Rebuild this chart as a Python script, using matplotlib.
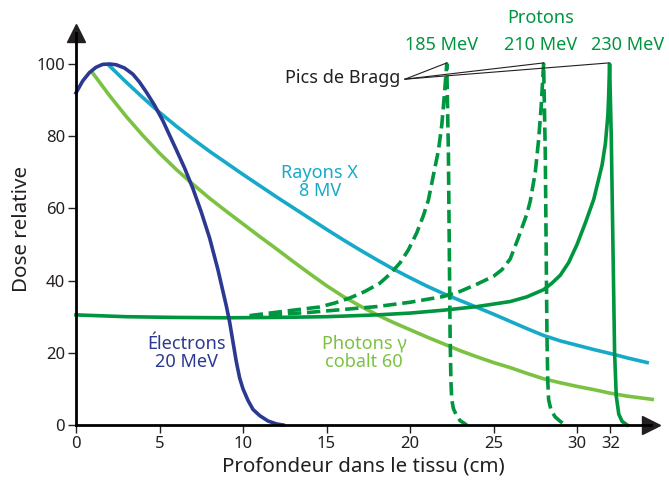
import matplotlib.pyplot as plt

# profondeur (cm) / dose relative (%)
depth_elec = [0, 0.4, 0.8, 1.2, 1.6, 2, 2.4, 2.9, 3.4, 3.8, 4.2, 4.7, 5.2, 5.6,
              6, 6.5, 7, 7.5, 8, 8.5, 9, 9.2, 9.4, 9.6, 9.8, 10, 10.3, 10.6,
              11, 11.5, 12, 12.4]
dose_elec = [92, 95.3, 97.6, 99.1, 99.9, 100, 99.8, 98.9, 97.2, 95, 92.3, 88.6,
             84.3, 80.3, 76.3, 71.2, 65.5, 59, 51.8, 43, 33, 28.5, 23, 17.5, 13,
             10, 6.8, 4.3, 2.6, 1.1, 0.3, 0]

depth_xray = [2, 3, 4, 5, 6, 7, 8, 9, 10, 11, 12, 13, 14, 15, 16, 17, 18, 19,
              20, 21, 22, 23, 24, 25, 26, 27, 28, 29, 30, 31, 32, 33, 34.2]
dose_xray = [99.5, 95, 90.7, 86.6, 82.8, 79.2, 75.8, 72.6, 69.4, 66.3, 63.2,
             60.2, 57.2, 54.2, 51.3, 48.5, 45.8, 43.2, 40.8, 38.5, 36.4, 34.5,
             32.6, 30.7, 28.7, 26.7, 24.8, 23.3, 22.1, 20.9, 19.8, 18.6, 17.3]

depth_cobalt = [1, 2, 3, 4, 5, 6, 7, 8, 9, 10, 11, 12, 13, 14, 15, 16, 17, 18,
                19, 20, 21, 22, 23, 24, 25, 26, 27, 28, 29, 30, 31, 32, 33, 34.5]
dose_cobalt = [97.5, 91.3, 85.5, 80.2, 75.3, 70.8, 66.7, 62.8, 59.2, 55.7, 52.2,
               48.8, 45.3, 41.9, 38.6, 35.6, 33, 30.6, 28.4, 26.4, 24.4, 22.5,
               20.6, 18.9, 17.3, 15.9, 14.3, 12.8, 11.7, 10.7, 9.8, 8.8, 8, 7.1]

depth_p185 = [10.4, 11.6, 13, 14.6, 15.5, 16.4, 17.3, 18.2, 18.8, 19.4, 19.9,
              20.4, 20.8, 21.1, 21.5, 21.7, 21.9, 22.05, 22.2, 22.3, 22.35,
              22.4, 22.45, 22.5, 22.6, 22.8, 23.0, 23.4]
dose_p185 = [30.3, 31, 31.8, 32.7, 33.8, 35.2, 37, 39.3, 41.8, 44.9, 48.5, 53.2,
             58, 62.3, 71.5, 76, 83, 91, 100, 75, 50, 25, 12, 7, 4.5, 2.5, 1.2, 0]

depth_p210 = [10.4, 12, 14, 16, 18, 20, 22, 23, 24, 25, 25.5, 26, 26.5, 27, 27.2,
              27.5, 27.7, 27.85, 28, 28.1, 28.15, 28.2, 28.25, 28.3, 28.45,
              28.7, 29.0, 29.3]
dose_p210 = [30.2, 30.6, 31.2, 32, 32.8, 34, 35.6, 37, 39, 41.2, 43, 46, 52,
             58.5, 62, 70, 79, 88, 100, 75, 50, 25, 12, 7, 4, 2.2, 1, 0]

depth_p230 = [0, 3, 6, 9, 12, 15, 18, 20, 22, 24, 26, 27, 28, 28.5, 29, 29.5, 30,
              30.5, 31, 31.5, 31.7, 31.85, 31.9, 31.95, 32.05, 32.15, 32.25,
              32.35, 32.5, 32.7, 33]
dose_p230 = [30.5, 30, 29.8, 29.7, 29.8, 30, 30.5, 31, 31.8, 32.8, 34.2, 35.5,
             37.5, 39.3, 41.5, 45, 50, 56, 62.5, 72, 78, 86, 92, 100, 80, 50, 20,
             8, 3, 1, 0]

xticks = [0, 5, 10, 15, 20, 25, 30, 32]
yticks = [0, 20, 40, 60, 80, 100]

c_elec = '#2b3990'
c_xray = '#17aac8'
c_cobalt = '#7cc242'
c_prot = '#00953f'
c_txt = '#231f20'

plt.rcParams['font.family'] = ['Noto Sans', 'DejaVu Sans']

fig = plt.figure(figsize=(6.69, 4.84), dpi=100)
ax = fig.add_axes([0.1136, 0.1219, 0.860, 0.81])

lw = 2.6
ax.plot(depth_cobalt, dose_cobalt, color=c_cobalt, lw=lw, clip_on=False)
ax.plot(depth_xray, dose_xray, color=c_xray, lw=lw, clip_on=False)
ax.plot(depth_p185, dose_p185, color=c_prot, lw=lw, ls='--', clip_on=False)
ax.plot(depth_p210, dose_p210, color=c_prot, lw=lw, ls='--', clip_on=False)
ax.plot(depth_p230, dose_p230, color=c_prot, lw=lw, clip_on=False)
ax.plot(depth_elec, dose_elec, color=c_elec, lw=lw, clip_on=False)

ax.set_xlim(0, 34.45)
ax.set_ylim(0, 108.6)
ax.set_xticks(xticks)
ax.set_yticks(yticks)
ax.tick_params(direction='out', length=6, width=1, colors=c_txt,
               labelsize=12, pad=2)

for s in ['top', 'right']:
    ax.spines[s].set_visible(False)
for s in ['left', 'bottom']:
    ax.spines[s].set_linewidth(2)
    ax.spines[s].set_color('black')

# fleches au bout des axes
ax.plot(1, 0, '>', ms=12.5, color=c_txt, transform=ax.get_yaxis_transform(),
        clip_on=False)
ax.plot(0, 1, '^', ms=12.5, color=c_txt, transform=ax.get_xaxis_transform(),
        clip_on=False)

ax.set_xlabel('Profondeur dans le tissu (cm)', fontsize=14.8, color=c_txt,
              labelpad=3)
ax.set_ylabel('Dose relative', fontsize=14.8, color=c_txt, labelpad=3)

fs = 13
ax.text(14.6, 67.3, 'Rayons X\n8 MV', color=c_xray, fontsize=fs,
        ha='center', va='center', linespacing=1.0)
ax.text(6.6, 20, 'Électrons\n20 MeV', color=c_elec, fontsize=fs,
        ha='center', va='center', linespacing=1.0)
ax.text(17.25, 20, 'Photons γ\ncobalt 60', color=c_cobalt, fontsize=fs,
        ha='center', va='center', linespacing=1.0)
ax.text(27.8, 112.7, 'Protons', color=c_prot, fontsize=fs, ha='center',
        va='center', clip_on=False)
for xp, lab in [(21.9, '185 MeV'), (27.8, '210 MeV'), (33.05, '230 MeV')]:
    ax.text(xp, 105.3, lab, color=c_prot, fontsize=fs, ha='center',
            va='center', clip_on=False)

ax.text(19.4, 96.1, 'Pics de Bragg', color=c_txt, fontsize=fs, ha='right',
        va='center')
for xp in [22.2, 28.0, 31.9]:
    ax.plot([19.7, xp], [95.8, 100.3], color=c_txt, lw=0.8)

fig.savefig('out.png', dpi=100)
